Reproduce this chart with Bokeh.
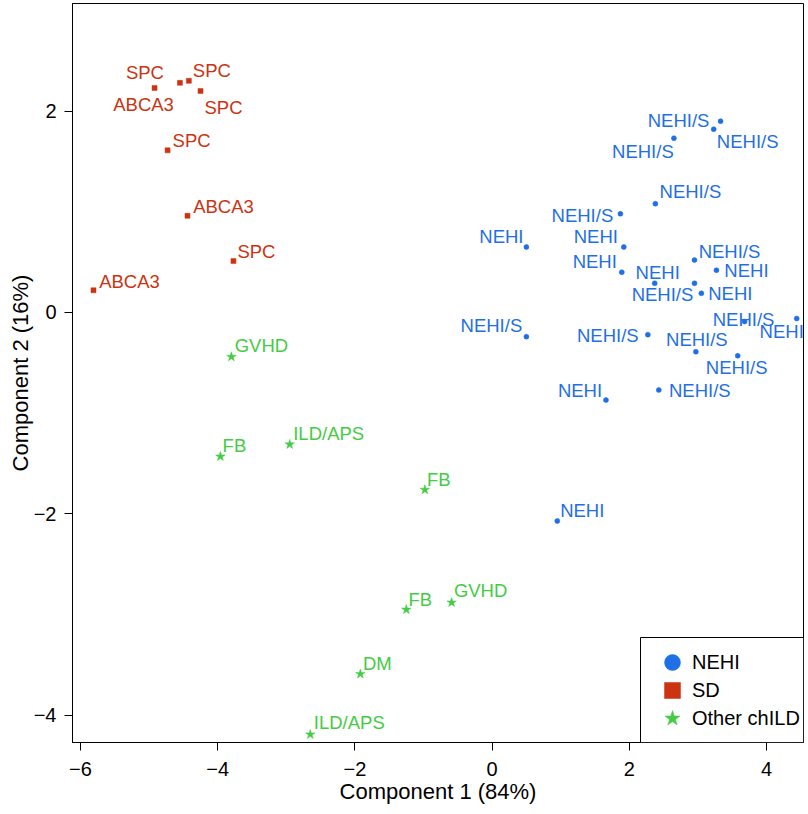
from bokeh.plotting import figure
from bokeh.models import Range1d, FixedTicker, Legend, LegendItem, ColumnDataSource, BoxAnnotation
from bokeh.embed import file_html
from bokeh.resources import INLINE
from bokeh.core.properties import value

# ---------------- data ----------------
nehi_x = [3.33, 3.23, 2.65, 2.38, 1.87, 0.50, 1.92, 1.89, 2.95, 3.27, 2.37,
          2.95, 3.05, 0.50, 2.27, 3.68, 4.44, 2.97, 3.58, 1.66, 2.43, 0.95]
nehi_y = [1.90, 1.82, 1.73, 1.08, 0.98, 0.65, 0.65, 0.40, 0.52, 0.42, 0.29,
          0.29, 0.19, -0.24, -0.22, -0.09, -0.06, -0.39, -0.43, -0.87, -0.77, -2.07]
nehi_lab = ["NEHI/S", "NEHI/S", "NEHI/S", "NEHI/S", "NEHI/S", "NEHI", "NEHI", "NEHI",
            "NEHI/S", "NEHI", "NEHI", "NEHI/S", "NEHI", "NEHI/S", "NEHI/S", "NEHI/S",
            "NEHI", "NEHI/S", "NEHI/S", "NEHI", "NEHI/S", "NEHI"]

sd_x = [-4.92, -4.55, -4.42, -4.25, -4.73, -4.44, -3.77, -5.81]
sd_y = [2.23, 2.28, 2.30, 2.20, 1.61, 0.96, 0.51, 0.22]
sd_lab = ["ABCA3", "SPC", "SPC", "SPC", "SPC", "ABCA3", "SPC", "ABCA3"]

oth_x = [-3.80, -3.96, -2.95, -0.98, -1.25, -0.59, -1.92, -2.65]
oth_y = [-0.44, -1.43, -1.31, -1.76, -2.95, -2.88, -3.59, -4.19]
oth_lab = ["GVHD", "FB", "ILD/APS", "FB", "FB", "GVHD", "DM", "ILD/APS"]

group_names = ["NEHI", "SD", "Other chILD"]

x_tick_values = [-6, -4, -2, 0, 2, 4]
x_tick_labels = ["\u22126", "\u22124", "\u22122", "0", "2", "4"]
y_tick_values = [-4, -2, 0, 2]
y_tick_labels = ["\u22124", "\u22122", "0", "2"]

# ---------------- label placement (pixel offsets of label centre) ----------------
nehi_dx = [-42, 34, -31, 35, -38, -25, -28, -27, 35, 30, 3, -32, 29, -35, -40, -1, -15, 1, -1, -26, 41, 25]
nehi_dy = [-1, 12, 13, -12, 2, -11, -11, -11, -9, 0, -11, 11, 0, -11, 1, -2, 13, -12, 12, -10, 0, -10]
sd_dx = [-11, -35, 23, 23, 24, 36, 23, 36]
sd_dy = [17, -10, -10, 17, -10, -9, -10, -9]
oth_dx = [30, 14, 39, 14, 14, 29, 17, 39]
oth_dy = [-11, -11, -11, -10, -10, -12, -11, -12]

BLUE = "#1F6FE6"
RED = "#CC3311"
GREEN = "#44CC44"
FONT = "Liberation Sans"

W, H = 806, 812
ML, MR, MT, MB = 72, 3, 3, 70

p = figure(width=W, height=H, output_backend="svg", toolbar_location=None,
           x_range=Range1d(-6.116, 4.539), y_range=Range1d(-4.270, 3.068),
           min_border_left=ML, min_border_right=MR, min_border_top=MT, min_border_bottom=MB)

p.background_fill_color = "white"
p.border_fill_color = "white"
p.outline_line_color = "black"
p.outline_line_width = 1
p.xgrid.visible = False
p.ygrid.visible = False

for ax, vals, labs in [(p.xaxis[0], x_tick_values, x_tick_labels), (p.yaxis[0], y_tick_values, y_tick_labels)]:
    ax.ticker = FixedTicker(ticks=vals)
    ax.major_label_overrides = {v: l for v, l in zip(vals, labs)}
    ax.minor_tick_line_color = None
    ax.major_tick_out = 8
    ax.major_tick_in = 0
    ax.axis_line_color = "black"
    ax.major_tick_line_color = "black"
    ax.major_label_text_font = FONT
    ax.major_label_text_font_size = "20px"
    ax.major_label_text_color = "black"
    ax.axis_label_text_font = FONT
    ax.axis_label_text_font_size = "22px"
    ax.axis_label_text_font_style = "normal"
    ax.axis_label_text_color = "black"

p.xaxis[0].major_label_standoff = 11
p.xaxis[0].axis_label_standoff = 0
p.yaxis[0].major_label_standoff = 8
p.yaxis[0].axis_label_standoff = -2

p.xaxis.axis_label = "Component 1 (84%)"
p.yaxis.axis_label = "Component 2 (16%)"

def add_group(xs, ys, labs, dxs, dys, color, marker, size):
    src = ColumnDataSource(dict(x=xs, y=ys, lab=labs, dx=dxs, dy=dys))
    r = p.scatter("x", "y", source=src, marker=marker, size=size,
                  fill_color=color, line_color=color, line_width=0.5)
    p.text("x", "y", text="lab", source=src, x_offset="dx", y_offset="dy",
           text_align="center", text_baseline="middle", text_color=color,
           text_font=value(FONT), text_font_size="18.5px")
    return r

r_nehi = add_group(nehi_x, nehi_y, nehi_lab, nehi_dx, nehi_dy, BLUE, "circle", 5)
r_sd = add_group(sd_x, sd_y, sd_lab, sd_dx, sd_dy, RED, "square", 5)
r_oth = add_group(oth_x, oth_y, oth_lab, oth_dx, oth_dy, GREEN, "star", 10)

# legend frame (canvas pixels)
box = BoxAnnotation(left=640, right=W - MR, top=637, bottom=H - MB,
                    left_units="canvas", right_units="canvas", top_units="canvas", bottom_units="canvas",
                    fill_color="white", fill_alpha=1.0, line_color="black", line_width=1, line_alpha=1.0)
p.add_layout(box)

# one legend per entry, stacked 28 px apart (frame-relative px: x from left, y from bottom)
for i, (name, rend) in enumerate(zip(group_names, [r_nehi, r_sd, r_oth])):
    lg = Legend(items=[LegendItem(label=name, renderers=[rend])],
                location=(580, 60 - 28 * i), margin=0, padding=0, spacing=0,
                glyph_width=40, glyph_height=40, label_standoff=0,
                border_line_color=None, background_fill_alpha=0.0,
                label_text_font=FONT, label_text_font_size="20px", label_text_color="black")
    p.add_layout(lg, "center")

open("out.html", "w").write(file_html(p, INLINE))
